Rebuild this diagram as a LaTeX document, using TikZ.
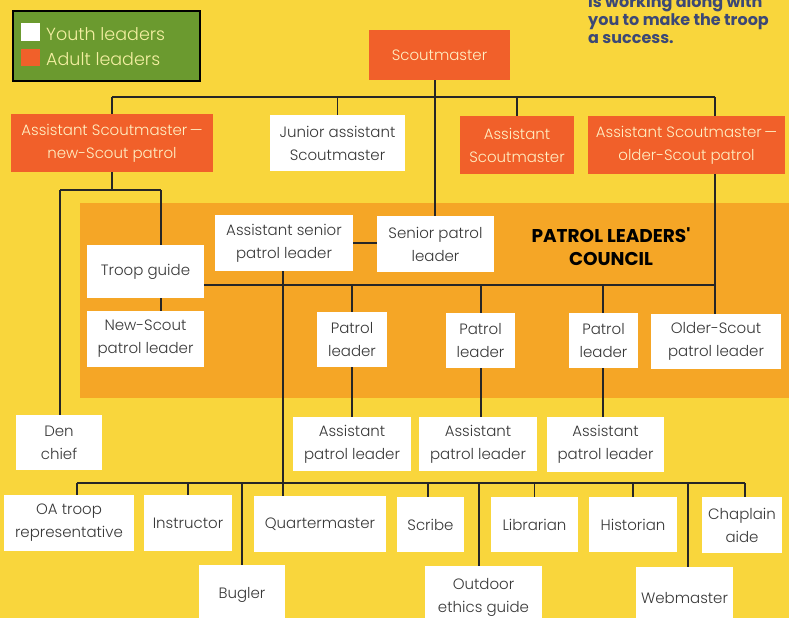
\documentclass[tikz,border=0pt]{standalone}
\usepackage{fontspec}
\setmainfont{Poppins Light}[BoldFont={Poppins Bold}]
\newfontfamily\heavyfont{Poppins Bold}
\definecolor{bgyellow}{HTML}{F9D63C}
\definecolor{bandorange}{HTML}{F5A626}
\definecolor{adultorange}{HTML}{F1602A}
\definecolor{legendgreen}{HTML}{6B9A2F}
\definecolor{creamtext}{HTML}{FFF0C4}
\definecolor{legendtext}{HTML}{F4EFA2}
\definecolor{darktext}{HTML}{383838}
\definecolor{bluetext}{HTML}{3C4876}
\pgfdeclarelayer{bg}
\pgfdeclarelayer{lines}
\pgfsetlayers{bg,lines,main}
\tikzset{
  youthbox/.style={rectangle, fill=white, inner sep=0pt, align=center, text=darktext,
    font=\fontsize{15}{23}\selectfont},
  adultbox/.style={rectangle, fill=adultorange, inner sep=0pt, align=center, text=creamtext,
    font=\fontsize{15}{23}\selectfont},
  link/.style={draw=black!85, line width=1.3pt},
  notetext/.style={anchor=base west, inner sep=0pt, text=bluetext, font=\heavyfont\fontsize{16}{18}\selectfont},
}
\newcommand\mkbox[7]{\node[#2, minimum width={#5-#3}, minimum height={#6-#4}] (#1) at ({(#3+#5)/2},{(#4+#6)/2}) {#7};}
\begin{document}
\begin{tikzpicture}[x=1pt,y=-1pt]
\useasboundingbox (0,0) rectangle (789,618);
\clip (0,0) rectangle (789,618);
\begin{pgfonlayer}{bg}
\fill[bgyellow] (0,0) rectangle (789,618);
\fill[bandorange] (80,203) rectangle (789,398);
\end{pgfonlayer}
\node[font=\heavyfont\fontsize{18.5}{23}\selectfont, align=center, anchor=base] (plc) at (611,242) {PATROL LEADERS'};
\node[font=\heavyfont\fontsize{18.5}{23}\selectfont, anchor=base] (plc2) at (611,265) {COUNCIL};
% legend
\node[rectangle, fill=legendgreen, draw=black, line width=2pt, minimum width=187pt, minimum height=70pt, anchor=north west] (legend) at (12,10) {};
\node[rectangle, fill=white, minimum width=19pt, minimum height=18pt, inner sep=0pt, anchor=north west] (ysq) at (21,23) {};
\node[rectangle, fill=adultorange, minimum width=19pt, minimum height=17pt, inner sep=0pt, anchor=north west] (asq) at (21,49) {};
\node[anchor=base west, inner sep=0pt, text=legendtext, font=\fontsize{17.5}{22}\selectfont] (ylab) at (46,41) {Youth leaders};
\node[anchor=base west, inner sep=0pt, text=legendtext, font=\fontsize{17.5}{22}\selectfont] (alab) at (46,66) {Adult leaders};
% top-right text
\node[notetext] (noteA) at (588,8) {is working along with};
\node[notetext] (noteB) at (588,26) {you to make the troop};
\node[notetext] (noteC) at (588,44) {a success.};
% boxes
\mkbox{sm}{adultbox}{369}{30}{510}{80}{Scoutmaster}
\mkbox{asmn}{adultbox}{11}{114}{213}{172}{Assistant Scoutmaster\,—\\new-Scout patrol}
\mkbox{jasm}{youthbox}{270}{115}{405}{171}{Junior assistant\\Scoutmaster}
\mkbox{asm}{adultbox}{460}{116}{574}{174}{Assistant\\Scoutmaster}
\mkbox{asmo}{adultbox}{588}{116}{785}{174}{Assistant Scoutmaster\,—\\older-Scout patrol}
\mkbox{aspl}{youthbox}{215}{215}{353}{271}{Assistant senior\\patrol leader}
\mkbox{spl}{youthbox}{377}{216}{494}{272}{Senior patrol\\leader}
\mkbox{tg}{youthbox}{87}{245}{204}{298}{Troop guide}
\mkbox{nspl}{youthbox}{87}{311}{204}{367}{New-Scout\\patrol leader}
\mkbox{plA}{youthbox}{317}{312}{387}{367}{Patrol\\leader}
\mkbox{plB}{youthbox}{446}{313}{515}{368}{Patrol\\leader}
\mkbox{plC}{youthbox}{569}{313}{638}{368}{Patrol\\leader}
\mkbox{ospl}{youthbox}{651}{314}{781}{369}{Older-Scout\\patrol leader}
\mkbox{den}{youthbox}{16}{415}{102}{470}{Den\\chief}
\mkbox{aplA}{youthbox}{293}{417}{411}{471}{Assistant\\patrol leader}
\mkbox{aplB}{youthbox}{419}{417}{537}{471}{Assistant\\patrol leader}
\mkbox{aplC}{youthbox}{547}{417}{664}{472}{Assistant\\patrol leader}
\mkbox{oa}{youthbox}{4}{495}{134}{551}{OA troop\\representative}
\mkbox{instr}{youthbox}{144}{495}{232}{551}{Instructor}
\mkbox{bug}{youthbox}{199}{565}{285}{625}{Bugler}
\mkbox{qm}{youthbox}{254}{496}{386}{552}{Quartermaster}
\mkbox{scribe}{youthbox}{397}{497}{464}{552}{Scribe}
\mkbox{oeg}{youthbox}{425}{566}{542}{628}{Outdoor\\ethics guide}
\mkbox{lib}{youthbox}{491}{497}{578}{552}{Librarian}
\mkbox{hist}{youthbox}{589}{497}{677}{552}{Historian}
\mkbox{chap}{youthbox}{702}{497}{782}{553}{Chaplain\\aide}
\mkbox{web}{youthbox}{636}{567}{733}{629}{Webmaster}
% connector coordinates
\coordinate (busA) at (0,97);
\coordinate (splitN) at (0,190);
\coordinate (busB) at (0,285);
\coordinate (busC) at (0,483);
\coordinate (xden) at (60,0);
\coordinate (xtg) at (161,0);
\coordinate (xsm) at (435,0);
\coordinate (xold) at (715,0);
\coordinate (xoa) at (77,0);
\coordinate (xpB) at (481,0);
\coordinate (xpC) at (603,0);
\coordinate (xoeg) at (479,0);
\coordinate (xweb) at (688,0);
\coordinate (xchap) at (745,0);
\coordinate (xscr) at (428,0);
\coordinate (xaspl) at (283,0);
\begin{pgfonlayer}{lines}
\draw[link] (asmn.north |- busA) -- (xold |- busA);
\draw[link] (asmn.north) -- (asmn.north |- busA);
\draw[link] (jasm.north) -- (jasm.north |- busA);
\draw[link] (asm.north) -- (asm.north |- busA);
\draw[link] (xold |- asmo.north) -- (xold |- busA);
\draw[link] (xsm |- sm.south) -- (xsm |- spl.north);
\draw[link] (asmn.south) -- (asmn.south |- splitN);
\draw[link] (xden |- splitN) -- (xtg |- splitN);
\draw[link] (xden |- splitN) -- (xden |- den.north);
\draw[link] (xtg |- splitN) -- (xtg |- tg.north);
\draw[link] (xtg |- tg.south) -- (xtg |- nspl.north);
\draw[link] (aspl.east) -- (aspl.east -| spl.west);
\draw[link] (tg.east |- busB) -- (xold |- busB);
\draw[link] (xold |- asmo.south) -- (xold |- ospl.north);
\draw[link] (plA.north |- busB) -- (plA.north);
\draw[link] (xpB |- busB) -- (xpB |- plB.north);
\draw[link] (xpC |- busB) -- (xpC |- plC.north);
\draw[link] (plA.south) -- (plA.south |- aplA.north);
\draw[link] (xpB |- plB.south) -- (xpB |- aplB.north);
\draw[link] (xpC |- plC.south) -- (xpC |- aplC.north);
\draw[link] (xaspl |- aspl.south) -- (xaspl |- qm.north);
\draw[link] (xoa |- busC) -- (xchap |- busC);
\draw[link] (xoa |- busC) -- (xoa |- oa.north);
\draw[link] (instr.north |- busC) -- (instr.north);
\draw[link] (bug.north |- busC) -- (bug.north);
\draw[link] (xscr |- busC) -- (xscr |- scribe.north);
\draw[link] (xoeg |- busC) -- (xoeg |- oeg.north);
\draw[link] (lib.north |- busC) -- (lib.north);
\draw[link] (hist.north |- busC) -- (hist.north);
\draw[link] (xweb |- busC) -- (xweb |- web.north);
\draw[link] (xchap |- busC) -- (xchap |- chap.north);
\end{pgfonlayer}
\end{tikzpicture}
\end{document}
